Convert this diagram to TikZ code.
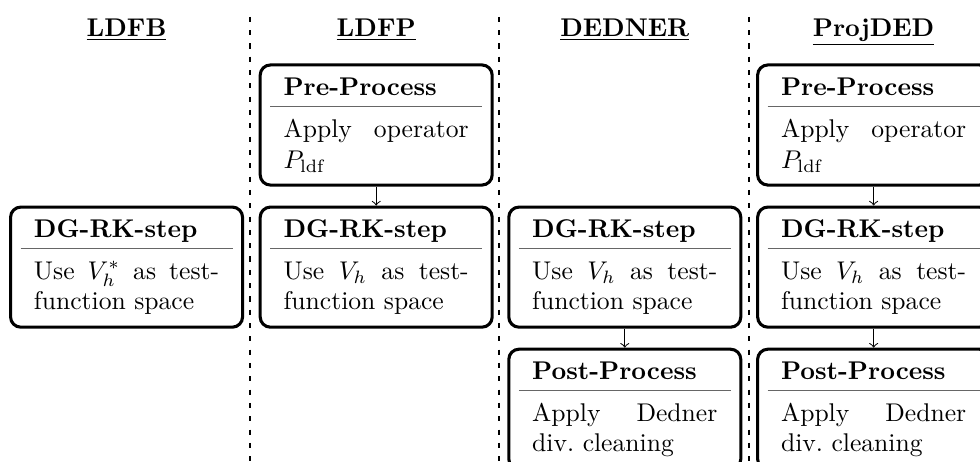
\documentclass[tikz,border=0pt]{standalone}
\usepackage{amsmath}
\usepackage{xcolor}
\usetikzlibrary{positioning}

% title, grey divider, then the description
\newcommand{\stagetext}[2]{\textbf{#1}\\[-7.4pt]\hspace*{-5.25pt}\textcolor{black!60}{\rule{82.8pt}{0.45pt}}\hspace*{-5.25pt}\\[-0.2pt]#2}

\begin{document}
\begin{tikzpicture}[
        stage/.style={draw, very thick, rounded corners=4pt, text width=72.3pt, inner xsep=9.15pt, inner ysep=0pt, minimum height=46.9pt, align=justify},
        header/.style={font=\bfseries, anchor=base},
        separator/.style={thick, dash pattern=on 2pt off 3.2pt},
        flow/.style={->, thin}
    ]

    \useasboundingbox (0,0) rectangle (13.45,-6.34);
    \clip (0,0) rectangle (13.45,-6.34);

    % Column headers
    \node[header] (h1) at (1.737, -0.494) {\underline{LDFB}};
    \node[header] (h2) at (5.163, -0.494) {\underline{LDFP}};
    \node[header] (h3) at (8.575, -0.494) {\underline{DEDNER}};
    \node[header] (h4) at (11.99, -0.494) {\underline{ProjDED}};

    % Separators between the columns
    \foreach \i/\x in {1/3.433, 2/6.852, 3/10.28} {
        \coordinate (s\i top) at (\x, -0.23);
        \coordinate (s\i bot) at (\x, -6.4);
        \draw[separator] (s\i top) -- (s\i bot);
    }

    % LDFB
    \node[stage] (ldfb-rk) at (1.737, -3.666) {\stagetext{DG-RK-step}{Use $V_h^*$ as test-function space}};

    % LDFP
    \node[stage] (ldfp-rk) at (5.163, -3.666) {\stagetext{DG-RK-step}{Use $V_h$ as test-function space}};
    \node[stage, above=0.26cm of ldfp-rk] (ldfp-pre) {\stagetext{Pre-Process}{Apply operator $P_{\mathrm{ldf}}$}};

    % DEDNER
    \node[stage] (dedner-rk) at (8.575, -3.666) {\stagetext{DG-RK-step}{Use $V_h$ as test-function space}};
    \node[stage, below=0.26cm of dedner-rk] (dedner-post) {\stagetext{Post-Process}{Apply Dedner div.\ cleaning}};

    % ProjDED
    \node[stage] (proj-rk) at (11.99, -3.666) {\stagetext{DG-RK-step}{Use $V_h$ as test-function space}};
    \node[stage, above=0.26cm of proj-rk] (proj-pre) {\stagetext{Pre-Process}{Apply operator $P_{\mathrm{ldf}}$}};
    \node[stage, below=0.26cm of proj-rk] (proj-post) {\stagetext{Post-Process}{Apply Dedner div.\ cleaning}};

    % Connections
    \draw[flow] (ldfp-pre) -- (ldfp-rk);
    \draw[flow] (dedner-rk) -- (dedner-post);
    \draw[flow] (proj-pre) -- (proj-rk);
    \draw[flow] (proj-rk) -- (proj-post);

\end{tikzpicture}
\end{document}
